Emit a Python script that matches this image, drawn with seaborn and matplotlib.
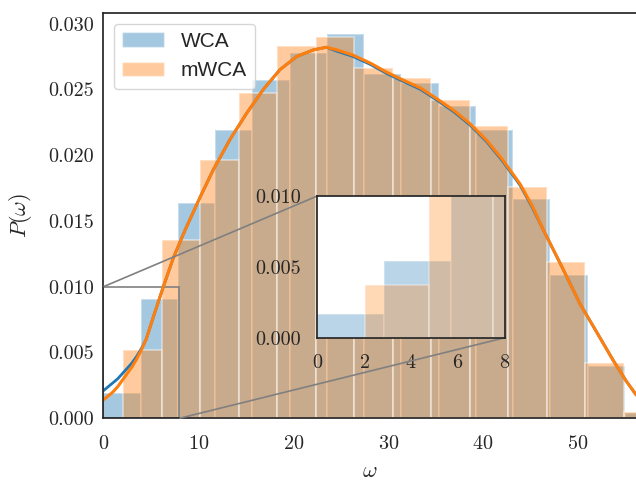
import numpy as np
import pandas as pd
import seaborn as sns
import matplotlib.pyplot as plt
from matplotlib.patches import Patch
from mpl_toolkits.axes_grid1.inset_locator import mark_inset

sns.set(style="white", font_scale=1.2)
plt.rcParams['font.family'] = 'cmr10'
plt.rcParams['mathtext.fontset'] = 'cm'
plt.rcParams['axes.formatter.use_mathtext'] = True

# histogram bins (density)
wca_edges = [0.0, 3.92, 7.85, 11.77, 15.70, 19.62, 23.54, 27.47, 31.39,
             35.31, 39.23, 43.16, 47.08, 51.0, 54.93, 58.85]
wca_dens = [0.0019, 0.0091, 0.0164, 0.0219, 0.0257, 0.0278, 0.0292, 0.0262,
            0.0255, 0.0237, 0.0219, 0.0167, 0.0109, 0.0040, 0.0004]
mwca_edges = [2.11, 6.16, 10.22, 14.27, 18.32, 22.38, 26.43, 30.48, 34.53,
              38.59, 42.64, 46.69, 50.75, 54.8, 58.85]
mwca_dens = [0.0052, 0.01355, 0.0196, 0.0247, 0.0283, 0.0290, 0.0266, 0.0259,
             0.0242, 0.0222, 0.0176, 0.0119, 0.0042, 0.0005]

# kde curves
kde_x = [0.0, 0.5, 1.0, 1.5, 2.0, 2.5, 3.0, 3.5, 4.0, 4.5, 5.26, 6.31, 7.37,
         8.6, 10.18, 11.58, 13.34, 15.1, 16.85, 18.6, 20.37, 22.12, 23.5,
         24.6, 26.3, 28.1, 29.85, 31.6, 33.4, 35.1, 36.9, 38.6, 40.4, 42.1,
         43.9, 45.2, 46.35, 48.1, 50.2, 52.0, 53.7, 55.1, 56.1, 57.5]
mwca_kde = [0.0014, 0.0017, 0.0020, 0.0024, 0.0029, 0.0034, 0.0039, 0.0045,
            0.0052, 0.0060, 0.0077, 0.0100, 0.0122, 0.0143, 0.0168, 0.0189,
            0.0212, 0.0232, 0.0250, 0.0265, 0.0275, 0.0280, 0.0282, 0.0280,
            0.0276, 0.0270, 0.0263, 0.0257, 0.0251, 0.0243, 0.0234, 0.0224,
            0.0211, 0.0196, 0.0178, 0.0161, 0.0143, 0.0118, 0.0087, 0.0065,
            0.0044, 0.0028, 0.0018, 0.0009]
wca_kde = [0.0021, 0.0024, 0.0027, 0.0030, 0.0034, 0.0038, 0.0042, 0.0047,
           0.0053, 0.0060, 0.0077, 0.0100, 0.0122, 0.0143, 0.0168, 0.0189,
           0.0212, 0.0232, 0.0250, 0.0265, 0.0275, 0.0280, 0.0282, 0.0279,
           0.0275, 0.0269, 0.0262, 0.0256, 0.0250, 0.0242, 0.0233, 0.0223,
           0.0210, 0.0195, 0.0177, 0.0160, 0.0143, 0.0118, 0.0087, 0.0065,
           0.0044, 0.0028, 0.0018, 0.0009]

# zoomed inset histogram
ins_wca_edges = [0.0, 2.85, 5.7, 8.55]
ins_wca_dens = [0.0017, 0.0054, 0.0125]
ins_mwca_edges = [2.03, 4.77, 7.5, 10.23]
ins_mwca_dens = [0.0037, 0.0112, 0.0140]

blue, orange = '#1f77b4', '#ff7f0e'


def hist(ax, edges, dens, color, alpha):
    centers = [(a + b) / 2 for a, b in zip(edges[:-1], edges[1:])]
    sns.histplot(x=centers, weights=dens, bins=edges, stat='count', color=color,
                 alpha=alpha, edgecolor=(1, 1, 1, alpha), linewidth=1.5, ax=ax)


fig = plt.figure(figsize=(6.36, 4.8), dpi=100)
ax = fig.add_axes([0.1626, 0.1285, 0.8374, 0.8438])

hist(ax, wca_edges, wca_dens, blue, 0.4)
hist(ax, mwca_edges, mwca_dens, orange, 0.4)
sns.lineplot(x=kde_x, y=wca_kde, color=blue, lw=2, ax=ax)
sns.lineplot(x=kde_x, y=mwca_kde, color=orange, lw=2.2, ax=ax)

ax.set_xlim(0, 56.1)
ax.set_ylim(0, 0.03078)
ax.set_xticks([0, 10, 20, 30, 40, 50])
ax.set_yticks([0, 0.005, 0.010, 0.015, 0.020, 0.025, 0.030])
ax.yaxis.set_major_formatter(plt.FormatStrFormatter('%.3f'))
ax.tick_params(length=0, labelsize=14.5)
ax.tick_params(axis='x', pad=12)
ax.tick_params(axis='y', pad=7)
ax.spines['right'].set_visible(False)
ax.set_xlabel(r'$\omega$', fontsize=16, labelpad=6)
ax.set_ylabel(r'$P(\omega)$', fontsize=16, labelpad=10)

ax.legend(handles=[Patch(facecolor=blue, alpha=0.4, label='WCA'),
                   Patch(facecolor=orange, alpha=0.4, label='mWCA')],
          loc='upper left', prop={'family': 'Liberation Sans', 'size': 15})

axins = fig.add_axes([0.4989, 0.2965, 0.2951, 0.2952])
axins.set_facecolor('white')
hist(axins, ins_wca_edges, ins_wca_dens, blue, 0.3)
hist(axins, ins_mwca_edges, ins_mwca_dens, orange, 0.3)
axins.set_xlim(0, 8)
axins.set_ylim(0, 0.010)
axins.set_xticks([0, 2, 4, 6, 8])
axins.set_yticks([0, 0.005, 0.010])
axins.yaxis.set_major_formatter(plt.FormatStrFormatter('%.3f'))
axins.set_xlabel('')
axins.set_ylabel('')
axins.tick_params(length=0, pad=12, labelsize=14.5)
mark_inset(ax, axins, loc1=2, loc2=4, fc='none', ec='0.5', lw=1.2)

fig.savefig('out.png', dpi=100)
